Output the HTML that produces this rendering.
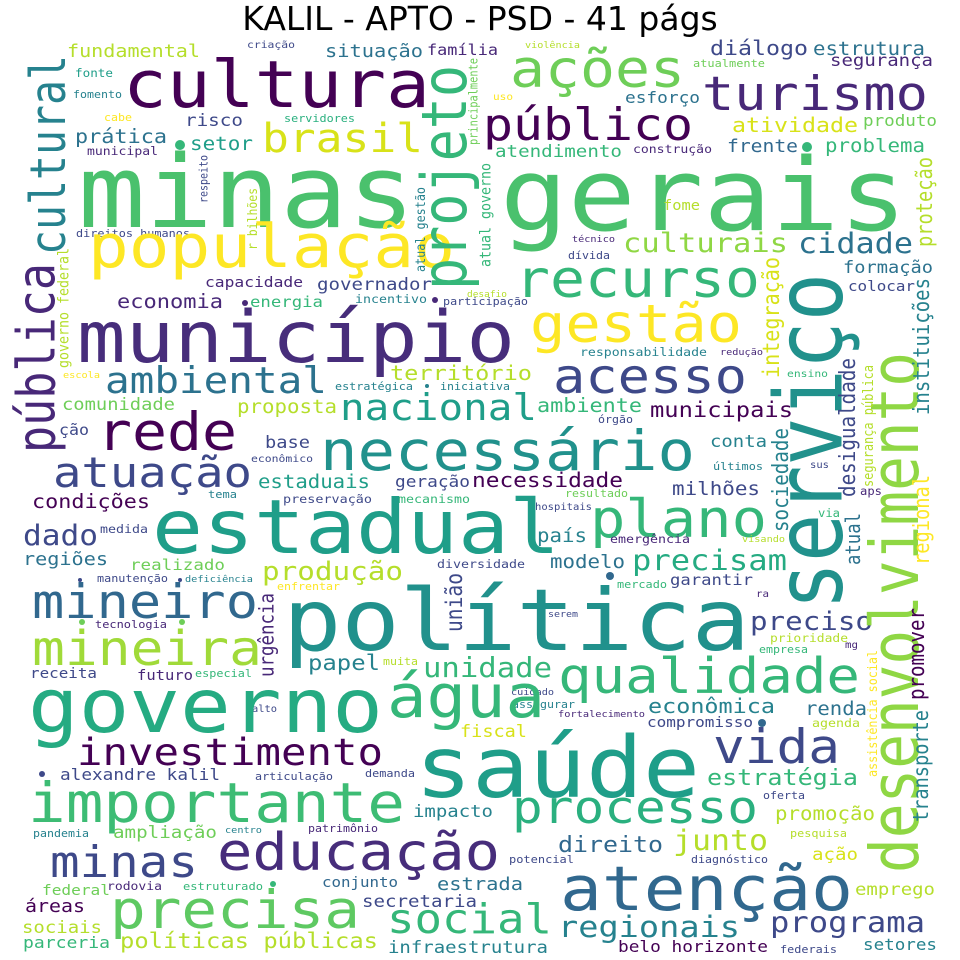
<!DOCTYPE html>
<html>
<head>
<meta charset="utf-8">
<style>
html,body{margin:0;padding:0;background:#fff;}
svg{display:block;}
.w text{font-family:"DejaVu Sans Mono","Liberation Mono",monospace;}
</style>
</head>
<body>
<svg id="cloud" width="960" height="960" viewBox="0 0 960 960" xmlns="http://www.w3.org/2000/svg">
<rect width="960" height="960" fill="#fff"/>
<text x="480" y="30" font-size="33" text-anchor="middle" fill="#000" font-family="DejaVu Sans, Liberation Sans, sans-serif">KALIL - APTO - PSD - 41 págs</text>
<g id="words" class="w" transform="scale(1.15,1)"></g>
</svg>
<script>
const S = 1.15;
// horizontal words: text, left x, baseline y, width, color
const hWords = [
["fundamental",67,57,133,"#b5de2b"],["criação",247,48,48,"#3e4989"],["situação",325,57,98,"#2c728e"],
["família",427,55,71,"#482878"],["violência",525,48,55,"#b5de2b"],["diálogo",710,55,98,"#3e4989"],
["estrutura",813,55,112,"#2c728e"],["segurança",830,66,103,"#482878"],["atualmente",693,67,72,"#6ece58"],
["cultura",123,107,307,"#440154"],["ações",510,87,175,"#6ece58"],["turismo",702,110,226,"#482878"],
["fonte",75,77,38,"#1f9e89"],["fomento",73,98,49,"#26828e"],["uso",493,100,20,"#fde725"],
["esforço",625,103,75,"#2c728e"],["cabe",104,121,28,"#fde725"],["servidores",284,122,71,"#2ab07f"],
["risco",185,126,58,"#3e4989"],["público",483,140,210,"#440154"],["brasil",262,152,161,"#d8e219"],
["prática",75,143,92,"#2c728e"],["setor",190,150,63,"#1f9e89"],["municipal",87,155,71,"#482878"],
["atividade",732,132,126,"#d8e219"],["produto",863,126,74,"#6ece58"],["frente",727,152,71,"#31688e"],
["problema",825,152,100,"#35b779"],["atendimento",495,157,127,"#35b779"],["construção",633,153,79,"#482878"],
["minas",78,227,337,"#4ac16d"],["gerais",500,230,407,"#4ac16d"],["fome",663,210,37,"#b5de2b"],
["direitos humanos",76,237,114,"#3e4989"],["culturais",623,252,165,"#8fd744"],["cidade",798,253,115,"#2c728e"],
["técnico",572,242,43,"#482878"],["dívida",568,259,42,"#3e4989"],["população",88,267,367,"#fde725"],
["capacidade",205,287,98,"#482878"],["governador",317,290,115,"#3e4989"],["formação",843,273,90,"#2c728e"],
["colocar",848,291,67,"#3e4989"],["recurso",515,297,245,"#35b779"],["desafio",467,297,40,"#b5de2b"],
["economia",117,308,106,"#482878"],["energia",250,307,73,"#35b779"],["incentivo",355,303,72,"#26828e"],
["participação",443,305,85,"#3e4989"],["gestão",530,342,212,"#fde725"],["responsabilidade",580,356,127,"#26828e"],
["redução",720,355,43,"#482878"],["município",77,362,438,"#472d7b"],["escola",63,378,37,"#fde725"],
["ensino",787,377,41,"#35b779"],["território",390,380,142,"#b5de2b"],["estratégica",335,390,78,"#26828e"],
["iniciativa",440,390,70,"#26828e"],["ambiental",105,393,222,"#2c728e"],["acesso",553,393,194,"#3e4989"],
["comunidade",62,410,113,"#6ece58"],["ambiente",537,412,105,"#35b779"],["proposta",237,413,100,"#b5de2b"],
["municipais",650,417,143,"#440154"],["nacional",340,420,197,"#1f9e89"],["órgão",598,423,35,"#3e4989"],
["ção",59,435,30,"#3e4989"],["conta",710,447,57,"#26828e"],["base",265,448,45,"#3e4989"],
["rede",97,450,140,"#440154"],["econômico",251,462,62,"#3e4989"],["necessário",320,470,375,"#21918c"],
["últimos",713,470,50,"#26828e"],["sus",810,468,19,"#3e4989"],["atuação",53,487,199,"#3e4989"],
["estaduais",258,488,112,"#1f9e89"],["geração",395,487,75,"#3e4989"],["necessidade",472,487,151,"#440154"],
["milhões",672,495,88,"#3e4989"],["resultado",565,497,63,"#6ece58"],["aps",860,495,22,"#482878"],
["tema",208,498,29,"#26828e"],["preservação",283,503,89,"#3e4989"],["mecanismo",398,503,72,"#35b779"],
["condições",32,508,118,"#440154"],["hospitais",535,510,57,"#3e4989"],["via",818,517,22,"#35b779"],
["medida",100,533,48,"#3e4989"],["plano",590,537,177,"#35b779"],["país",537,542,50,"#26828e"],
["emergência",610,543,80,"#482878"],["visando",742,542,43,"#b5de2b"],["dado",23,545,75,"#3e4989"],
["estadual",152,553,408,"#1f9e89"],["regiões",23,565,85,"#2c728e"],["diversidade",437,568,88,"#3e4989"],
["modelo",550,568,75,"#2c728e"],["precisam",632,570,155,"#25ab82"],["realizado",130,570,95,"#6ece58"],
["produção",262,580,141,"#b5de2b"],["manutenção",97,582,71,"#3e4989"],["deficiência",185,582,68,"#26828e"],
["garantir",670,585,83,"#3e4989"],["mercado",617,588,50,"#35b779"],["enfrentar",277,590,63,"#fde725"],
["ra",756,597,13,"#482878"],["serem",548,617,30,"#3e4989"],["mineiro",32,618,226,"#31688e"],
["tecnologia",95,628,72,"#482878"],["preciso",750,630,123,"#3e4989"],["prioridade",770,642,78,"#b5de2b"],
["mg",845,648,13,"#482878"],["política",283,650,467,"#21918c"],["empresa",759,653,49,"#35b779"],
["mineira",32,665,230,"#a0da39"],["papel",308,670,72,"#26828e"],["muita",383,665,35,"#b5de2b"],
["unidade",423,677,129,"#35b779"],["receita",30,678,67,"#3e4989"],["futuro",137,680,56,"#482878"],
["especial",195,677,57,"#35b779"],["qualidade",558,693,302,"#35b779"],["cuidado",511,695,43,"#3e4989"],
["assegurar",512,708,63,"#26828e"],["alto",252,712,25,"#3e4989"],["econômica",648,713,127,"#26828e"],
["renda",805,715,62,"#2c728e"],["fortalecimento",558,717,87,"#482878"],["água",387,717,158,"#35b779"],
["compromisso",647,727,106,"#3e4989"],["agenda",812,727,48,"#b5de2b"],["governo",28,732,355,"#25ab82"],
["fiscal",460,737,67,"#d8e219"],["vida",713,763,127,"#3e4989"],["investimento",77,765,306,"#440154"],
["alexandre kalil",60,780,160,"#3e4989"],["articulação",255,780,78,"#3e4989"],["demanda",365,777,50,"#3e4989"],
["estratégia",707,785,151,"#35b779"],["saúde",415,797,285,"#1f9e89"],["oferta",763,799,42,"#3e4989"],
["impacto",413,817,80,"#26828e"],["promoção",775,820,100,"#b5de2b"],["importante",28,822,377,"#3dbc74"],
["processo",512,823,246,"#2ab07f"],["centro",225,833,37,"#26828e"],["patrimônio",308,832,70,"#482878"],
["pandemia",33,837,56,"#26828e"],["pesquisa",790,837,57,"#b5de2b"],["ampliação",113,838,104,"#6ece58"],
["junto",673,850,95,"#b5de2b"],["direito",558,852,105,"#31688e"],["ação",812,860,46,"#d8e219"],
["potencial",509,863,65,"#3e4989"],["diagnóstico",691,863,77,"#3e4989"],["educação",217,870,283,"#472d7b"],
["minas",50,877,148,"#3e4989"],["conjunto",322,887,76,"#31688e"],["rodovia",107,890,55,"#482878"],
["estruturado",183,890,80,"#35b779"],["estrada",437,890,86,"#2c728e"],["federal",42,895,68,"#6ece58"],
["emprego",855,895,80,"#b5de2b"],["secretaria",362,907,115,"#3e4989"],["atenção",560,910,293,"#31688e"],
["áreas",25,912,60,"#440154"],["precisa",110,928,250,"#5ec962"],["programa",770,932,155,"#3e4989"],
["sociais",22,933,80,"#b5de2b"],["social",387,933,165,"#35b779"],["regionais",558,937,182,"#26828e"],
["parceria",23,948,87,"#35b779"],["políticas públicas",120,948,258,"#b5de2b"],["setores",863,950,74,"#26828e"],
["belo horizonte",618,952,150,"#440154"],["infraestrutura",388,953,160,"#26828e"],["federais",780,953,57,"#3e4989"]
];
// vertical words: text, right-edge x, bottom y, length, color
const vWords = [
["cultural",65,255,200,"#26828e"],["pública",66,453,190,"#482878"],["projeto",480,290,225,"#35b779"],
["serviço",862,610,337,"#21918c"],["desenvolvimento",918,873,521,"#8fd744"],["governo federal",72,368,120,"#b5de2b"],
["respeito",210,203,48,"#3e4989"],["r bilhões",257,250,62,"#b5de2b"],["atual gestão",428,272,85,"#26828e"],
["atual governo",494,267,104,"#35b779"],["principalmente",480,145,87,"#6ece58"],["integração",784,378,121,"#d8e219"],
["proteção",937,247,90,"#b5de2b"],["instituições",934,415,137,"#26828e"],["desigualdade",860,497,139,"#3e4989"],
["sociedade",788,532,104,"#26828e"],["segurança pública",876,487,122,"#b5de2b"],["atual",860,565,52,"#2c728e"],
["regional",934,565,90,"#fde725"],["urgência",278,677,84,"#482878"],["união",462,632,59,"#3e4989"],
["promover",929,700,92,"#440154"],["assistência social",877,777,127,"#fde725"],["transporte",933,822,112,"#26828e"]
];
const dotX = [180,807,245,435,42,273,610,762,82,182,80,180,427];
const dotY = [150,152,306,303,777,887,580,727,625,625,582,582,388];
const dotR = [5,5,3,3,3,3,4,4,3,3,2,2,2];
const dotC = ["#35b779","#35b779","#482878","#482878","#3e4989","#35b779","#31688e","#31688e","#6ece58","#6ece58","#3e4989","#3e4989","#26828e"];

const g = document.getElementById('words');
const NS = 'http://www.w3.org/2000/svg';
function slug(s){return s.replace(/[^a-zA-Z0-9\u00C0-\u017F]+/g,'-').replace(/^-|-$/g,'');}
hWords.forEach(function(w){
  const n = w[0].length;
  const f = w[3] / (0.602 * S * (n - 0.15));
  const t = document.createElementNS(NS,'text');
  t.textContent = w[0];
  t.setAttribute('x', (w[1] / S).toFixed(2));
  t.setAttribute('y', w[2]);
  t.setAttribute('font-size', f.toFixed(2));
  t.setAttribute('fill', w[4]);
  t.setAttribute('textLength', (w[3] / S).toFixed(2));
  t.setAttribute('lengthAdjust', 'spacingAndGlyphs');
  
  
  g.appendChild(t);
});
vWords.forEach(function(w){
  const n = w[0].length;
  const f = w[3] / (0.602 * (n - 0.15));
  const desc = /[gjpqyç]/.test(w[0]) ? 0.22 * f * S : 0;
  const bx = (w[1] - desc) / S;
  const t = document.createElementNS(NS,'text');
  t.textContent = w[0];
  t.setAttribute('transform', 'translate(' + bx.toFixed(2) + ',' + w[2] + ') rotate(-90)');
  t.setAttribute('font-size', f.toFixed(2));
  t.setAttribute('fill', w[4]);
  t.setAttribute('textLength', w[3]);
  t.setAttribute('lengthAdjust', 'spacingAndGlyphs');
  
  
  g.appendChild(t);
});
const svg = document.getElementById('cloud');
dotX.forEach(function(x, i){
  const c = document.createElementNS(NS,'circle');
  c.setAttribute('cx', x);
  c.setAttribute('cy', dotY[i] - dotR[i]);
  c.setAttribute('r', dotR[i]);
  c.setAttribute('fill', dotC[i]);
  
  
  svg.appendChild(c);
});
</script>
</body>
</html>
